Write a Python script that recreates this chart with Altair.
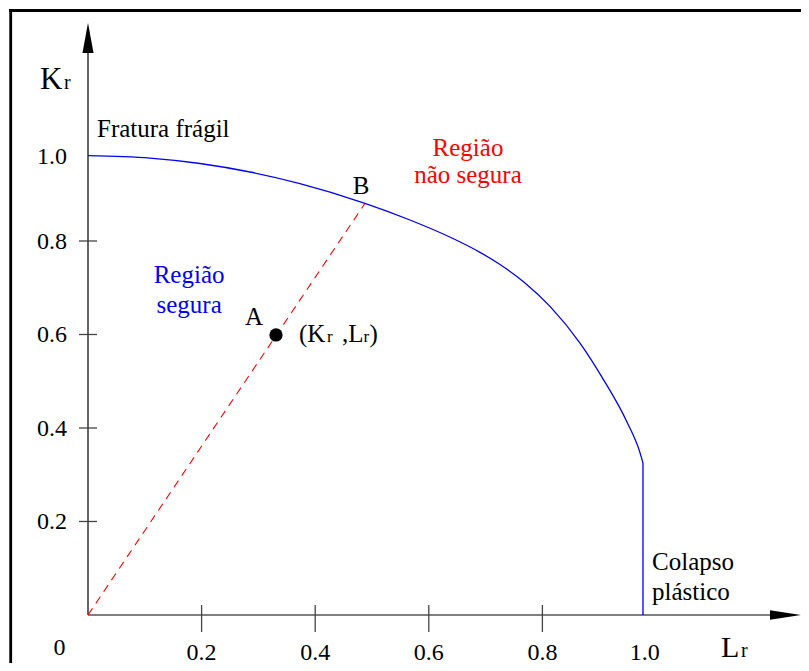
import altair as alt
import pandas as pd

FONT = "Liberation Serif"

# ---------------- values ----------------
# failure assessment curve (Lr, Kr)
curve_lr = [0.0, 0.1092, 0.1972, 0.2852, 0.3732, 0.4877, 0.5669, 0.6426, 0.6901, 0.7254,
            0.7694, 0.8134, 0.8662, 0.9067, 0.9489, 0.9718, 0.9771]
curve_kr = [0.9825, 0.9773, 0.9658, 0.9476, 0.9228, 0.8806, 0.8449, 0.8053, 0.7758, 0.7497,
            0.7102, 0.6601, 0.5816, 0.5052, 0.4128, 0.3474, 0.3251]
# plastic-collapse cut-off (vertical segment)
cut_lr = [0.9771, 0.9771]
cut_kr = [0.3251, 0.0]

# load line from origin to B
load_lr = [0.0, 0.4877]
load_kr = [0.0, 0.8806]

# assessment point A
point_lr = [0.331]
point_kr = [0.599]

# axis ticks and labels
x_ticks = [0.2, 0.4, 0.6, 0.8]
x_tick_labels = ["0.2", "0.4", "0.6", "0.8"]
y_ticks = [0.2, 0.4, 0.6, 0.8]
y_tick_labels = ["0.2", "0.4", "0.6", "0.8"]
LR_ONE = 0.98     # where the "1.0" label of Lr sits
KR_ONE = 0.982    # where the "1.0" label of Kr sits

# axis extents (arrows)
Y_AXIS_TOP = 1.202
X_AXIS_END = 1.2007
Y_ARROW = 1.234
X_ARROW = 1.228

# scale domains
X_DOMAIN = [-0.14085, 1.2553]
Y_DOMAIN = [-0.1027, 1.2984]

W, H = 793, 655


def X(field):
    return alt.X(field, type="quantitative", scale=alt.Scale(domain=X_DOMAIN, nice=False, zero=False), axis=None)


def Y(field):
    return alt.Y(field, type="quantitative", scale=alt.Scale(domain=Y_DOMAIN, nice=False, zero=False), axis=None)


def texts(df, size, align="left", color="black", dy=0):
    return alt.Chart(df).mark_text(font=FONT, fontSize=size, align=align, baseline="alphabetic",
                                   color=color, dy=dy).encode(x=X("x"), y=Y("y"), text="t:N")


# ---------------- frame ----------------
frame_left = alt.Chart(pd.DataFrame({"a": [0]})).mark_rule(color="black", strokeWidth=2.8).encode(
    x=alt.value(2.7), y=alt.value(1), y2=alt.value(H))
frame_top = alt.Chart(pd.DataFrame({"a": [0]})).mark_rule(color="black", strokeWidth=2.8).encode(
    y=alt.value(2.5), x=alt.value(1), x2=alt.value(W))

# ---------------- axes lines and arrows ----------------
y_axis = alt.Chart(pd.DataFrame({"x": [0.0], "y": [0.0], "y2": [Y_AXIS_TOP]})).mark_rule(
    color="black", strokeWidth=1.2).encode(x=X("x"), y=Y("y"), y2="y2:Q")
x_axis = alt.Chart(pd.DataFrame({"y": [0.0], "x": [0.0], "x2": [X_AXIS_END]})).mark_rule(
    color="black", strokeWidth=1.2).encode(y=Y("y"), x=X("x"), x2="x2:Q")

arrow_up = alt.Chart(pd.DataFrame({"x": [0.0], "y": [Y_ARROW]})).mark_point(
    shape="M0,-1L0.37,1L-0.37,1Z", size=900, filled=True, color="black", opacity=1).encode(x=X("x"), y=Y("y"))
arrow_right = alt.Chart(pd.DataFrame({"x": [X_ARROW], "y": [0.0]})).mark_point(
    shape="M1,0L-1,-0.3L-1,0.3Z", size=961, filled=True, color="black", opacity=1).encode(x=X("x"), y=Y("y"))

# ticks
x_tick_marks = alt.Chart(pd.DataFrame({"x": x_ticks, "y": [0.0] * len(x_ticks)})).mark_tick(
    orient="vertical", size=27, thickness=1.3, color="#444", yOffset=3.5, opacity=1).encode(x=X("x"), y=Y("y"))
y_tick_marks = alt.Chart(pd.DataFrame({"x": [0.0] * len(y_ticks), "y": y_ticks})).mark_tick(
    orient="horizontal", size=18, thickness=1.3, color="#444", opacity=1).encode(x=X("x"), y=Y("y"))

# tick labels
x_labels = texts(pd.DataFrame({"x": x_ticks + [LR_ONE], "y": [-0.0955] * (len(x_ticks) + 1),
                               "t": x_tick_labels + ["1.0"]}), 24, align="center")
zero_label = texts(pd.DataFrame({"x": [-0.0502], "y": [-0.0856], "t": ["0"]}), 24, align="center")
y_labels = texts(pd.DataFrame({"x": [-0.037] * (len(y_ticks) + 1), "y": y_ticks + [KR_ONE],
                               "t": y_tick_labels + ["1.0"]}), 24, align="right", dy=8)

# axis titles K r / L r
title_k = texts(pd.DataFrame({"x": [-0.0845], "y": [1.1251], "t": ["K"]}), 31)
title_l = texts(pd.DataFrame({"x": [1.1145], "y": [-0.0898], "t": ["L"]}), 30)
title_r = texts(pd.DataFrame({"x": [-0.0423, 1.1496], "y": [1.1251, -0.0898], "t": ["r", "r"]}), 20)

# ---------------- data marks ----------------
curve = alt.Chart(pd.DataFrame({"lr": curve_lr, "kr": curve_kr})).mark_line(
    color="#0000ff", strokeWidth=1.3, interpolate="monotone").encode(x=X("lr"), y=Y("kr"))
cut = alt.Chart(pd.DataFrame({"lr": cut_lr, "kr": cut_kr, "o": [0, 1]})).mark_line(
    color="#0000ff", strokeWidth=1.3).encode(x=X("lr"), y=Y("kr"), order="o:Q")
load = alt.Chart(pd.DataFrame({"lr": load_lr, "kr": load_kr})).mark_line(
    color="#ff0000", strokeWidth=1.1, strokeDash=[8, 6]).encode(x=X("lr"), y=Y("kr"))
pt = alt.Chart(pd.DataFrame({"lr": point_lr, "kr": point_kr})).mark_point(
    shape="circle", filled=True, size=175, color="black", opacity=1).encode(x=X("lr"), y=Y("kr"))

# ---------------- annotations ----------------
ann_left = texts(pd.DataFrame({
    "x": [0.0158, 0.993, 0.993, 0.3715, 0.4472, 0.4956],
    "y": [1.0225, 0.0973, 0.0321, 0.584, 0.584, 0.584],
    "t": ["Fratura frágil", "Colapso", "plástico", "(K", ",L", ")"],
}), 25)
ann_small = texts(pd.DataFrame({"x": [0.4208, 0.4852], "y": [0.584, 0.584], "t": ["r", "r"]}), 17)
ann_ab = texts(pd.DataFrame({"x": [0.2923, 0.4806], "y": [0.6203, 0.9005], "t": ["A", "B"]}), 25, align="center")
ann_blue = texts(pd.DataFrame({"x": [0.178, 0.178], "y": [0.710, 0.646], "t": ["Região", "segura"]}),
                 25, align="center", color="#0000ff")
ann_red = texts(pd.DataFrame({"x": [0.669, 0.669], "y": [0.982, 0.923], "t": ["Região", "não segura"]}),
                25, align="center", color="#ff0000")

chart = alt.layer(
    frame_left, frame_top,
    y_axis, x_axis, arrow_up, arrow_right, x_tick_marks, y_tick_marks,
    x_labels, zero_label, y_labels, title_k, title_l, title_r,
    load, curve, cut, pt,
    ann_left, ann_small, ann_ab, ann_blue, ann_red,
).properties(
    width=W, height=H, padding=0, autosize=alt.AutoSizeParams(type="none"),
    background="white",
).configure_view(stroke=None)

chart.save("out.html", embed_options={"renderer": "svg", "actions": False})
